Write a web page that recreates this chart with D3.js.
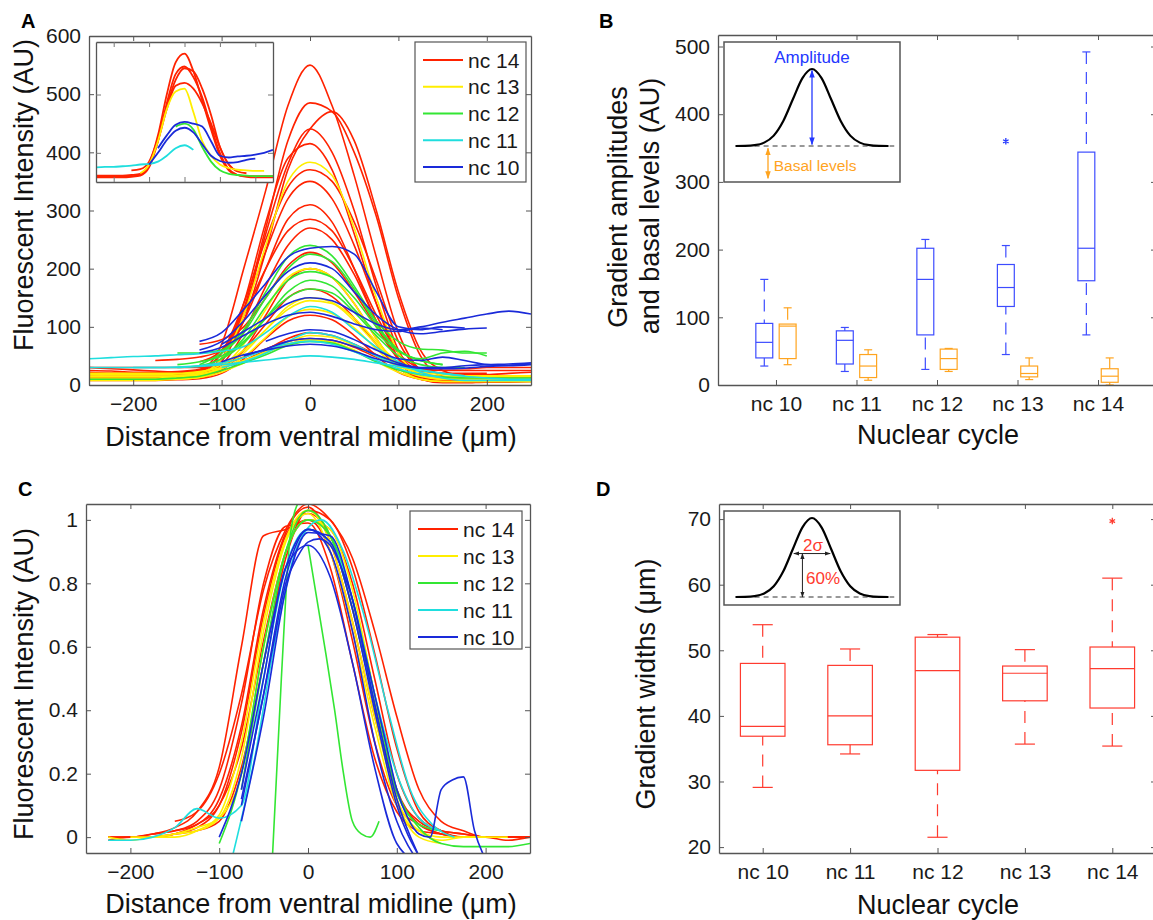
<!DOCTYPE html>
<html>
<head>
<meta charset="utf-8">
<title>Gradient profiles by nuclear cycle</title>
<script src="https://cdn.jsdelivr.net/npm/d3@7/dist/d3.min.js"></script>
<style>
  body { margin: 0; background: #fff; }
  svg { font-family: 'Liberation Sans', Arial, sans-serif; }
</style>
</head>
<body>
<svg id="chart" width="1153" height="920"></svg>
<script>
// ---- data ----
// legend order (top to bottom) and line colours
var ncNames = ['nc 14', 'nc 13', 'nc 12', 'nc 11', 'nc 10'];
var ncColors = ['#ff2200', '#ffee00', '#33e633', '#1fdede', '#1a2ad9'];

// panel A: raw profiles, each [start (um), step (um), intensities (AU)]
var rawNc14 = [
  [-250, 25, [22,20,20,19,19,25,70,200,335,480,550,480,360,220,90,25,8,6,9,11,14]],
  [-250, 25, [15,14,14,14,15,20,45,130,270,420,485,470,400,290,150,50,15,10,11,12,14]],
  [-250, 25, [30,28,26,24,22,25,45,110,230,370,440,470,420,300,160,60,25,16,15,15,16]],
  [-250, 25, [10,10,10,10,11,15,40,120,260,380,440,400,300,170,60,15,5,5,6,8,8]],
  [-250, 25, [12,12,12,12,13,18,45,140,280,390,415,370,260,140,45,10,4,4,5,5,6]],
  [-250, 25, [20,18,18,18,19,24,55,140,250,340,370,350,280,180,75,25,10,9,10,10,12]],
  [-250, 25, [25,24,22,22,23,27,55,130,230,320,350,320,240,140,55,22,14,12,12,14,14]],
  [-125, 25, [40,60,120,200,265,285,265,200,120,55,28,20,18,18,20,22]],
  [-250, 25, [15,15,15,15,16,19,35,90,170,240,270,250,190,110,45,16,9,8,8,9,10]],
  [-125, 25, [70,78,100,150,205,228,210,160,100,45,25,20,20,20]],
  [-250, 25, [10,10,10,10,11,13,25,60,120,180,200,185,140,80,30,10,5,5,5,6,6]],
  [-250, 25, [12,12,12,12,13,15,28,60,105,150,165,152,115,70,30,13,8,8,8,8,10]],
  [-250, 25, [20,20,20,20,21,23,30,42,60,80,90,85,70,52,35,27,25,25,25,25,25]],
  [-250, 25, [30,30,30,30,30,30,35,48,62,75,80,77,65,48,35,29,28,28,30,30,30]],
  [-175, 25, [42,44,48,60,110,200,285,310,280,200,110,45,18,12,12]],
  [-250, 25, [8,8,8,8,9,11,20,45,80,110,120,112,85,50,22,10,6,6,6,7,8]]
];
var rawNc13 = [
  [-250, 25, [15,15,15,15,16,20,45,120,240,350,383,360,270,150,55,18,10,10,10,10,10]],
  [-250, 25, [10,10,10,10,10,13,30,70,130,185,200,185,140,80,30,10,6,6,6,6,6]],
  [-250, 25, [15,15,15,15,16,19,30,55,95,135,150,142,115,75,38,18,12,12,12,12,12]],
  [-250, 25, [12,12,12,12,14,17,28,48,82,117,130,123,98,62,30,15,10,10,10,10,10]],
  [-250, 25, [20,20,20,20,20,23,30,42,57,74,85,82,68,50,32,22,18,16,16,16,16]],
  [-250, 25, [8,8,8,8,10,13,22,38,55,70,78,74,60,40,22,10,6,6,6,6,6]],
  [-250, 25, [18,18,18,18,19,22,35,60,95,130,145,140,110,70,35,20,15,15,15,15,15]]
];
var rawNc12 = [
  [-150, 25, [55,55,60,95,160,220,240,222,170,110,75,62,60,55,55]],
  [-125, 25, [35,55,90,150,200,225,212,165,105,60,42,35]],
  [-150, 25, [30,33,45,72,115,160,180,170,130,90,58,42,35]],
  [-150, 25, [35,40,50,75,115,150,165,158,125,85,50,35,30,30]],
  [-250, 25, [10,10,10,10,12,15,25,38,52,68,75,72,58,40,26,18,14,12,12,12,12]],
  [-100, 25, [45,80,135,180,195,185,150,100,60,45,55,58,50]]
];
var rawNc11 = [
  [-250, 25, [45,47,49,50,52,54,58,66,90,118,135,125,95,65,40,22,12,8,8,8,8]],
  [-200, 25, [30,30,30,32,35,39,43,47,50,48,44,38,32,26,20,16]],
  [-250, 25, [30,30,30,30,31,33,38,47,60,71,75,70,57,42,28,18,13]],
  [-100, 25, [30,40,55,75,90,85,70,50,35,25,20,15,12,10,10]]
];
var rawNc10 = [
  [-125, 25, [75,90,130,175,220,235,238,225,160,100,95,100,98]],
  [-125, 25, [60,75,110,155,195,210,200,160,120,95,88,92,96,98]],
  [-100, 25, [70,92,115,140,150,145,125,105,95,100,108,115,122,127,122]],
  [-125, 25, [55,65,85,105,120,125,118,105,95,92,98,95]],
  [-50, 25, [75,88,95,92,78,60,45,42,48,42,35,33,35]],
  [-75, 25, [50,62,75,80,77,66,52,38,30,30,33,35,36,38]],
  [-100, 25, [40,52,60,67,70,67,58,45,35,29,28,29,32,34,36]]
];

// panel A inset: the same profiles on their own axes, [start, step, values]
var insetNc14 = [
  [0, 0.5, [0.1,0.1,0.1,0.1,0.1,0.12,0.3,0.8,1.5,2.05,2.2,1.9,1.4,0.9,0.45,0.2,0.12,0.1,0.1,0.1,0.1]],
  [0, 0.5, [0.08,0.08,0.08,0.08,0.09,0.11,0.25,0.7,1.35,1.85,1.98,1.8,1.45,0.95,0.5,0.22,0.12,0.09,0.08,0.08,0.08]],
  [2, 0.5, [0.2,0.22,0.35,0.75,1.3,1.75,1.95,1.9,1.6,1.15,0.6,0.3,0.18]],
  [0, 0.5, [0.11,0.11,0.11,0.11,0.12,0.14,0.3,0.7,1.25,1.65,1.7,1.6,1.35,1.0,0.6,0.3,0.18,0.15]]
];
var insetNc13 = [[2.5, 0.5, [0.15,0.3,0.7,1.25,1.55,1.6,1.2,0.7,0.45,0.3,0.24,0.21,0.2,0.19,0.19]]];
var insetNc12 = [[4.5, 0.5, [0.95,1.0,0.9,0.6,0.35,0.2,0.14,0.12,0.11,0.1,0.1,0.1]]];
var insetNc11 = [[0, 0.5, [0.25,0.26,0.26,0.27,0.28,0.3,0.31,0.35,0.45,0.58,0.63,0.55]]];
var insetNc10 = [
  [3, 0.5, [0.3,0.5,0.72,0.88,0.93,0.85,0.65,0.45,0.36,0.33,0.34,0.38,0.4]],
  [3.5, 0.5, [0.58,0.8,0.98,1.03,1.0,0.95,0.7,0.45,0.42,0.44,0.45,0.47,0.5,0.55]]
];

// panel C: normalised profiles, [start, step, values]
var normNc14 = [
  [-225, 25, [0,0,0.01,0.02,0.05,0.15,0.42,0.8,0.98,0.99,0.85,0.55,0.25,0.08,0.02,0.01,0,0,0,0]],
  [-225, 25, [0,0,0.01,0.03,0.08,0.22,0.6,0.95,0.97,1.0,0.9,0.62,0.3,0.1,0.04,0.01,0,0,0,0]],
  [-200, 25, [0,0,0.01,0.03,0.1,0.33,0.7,0.95,1.02,0.95,0.72,0.42,0.15,0.04,0.01,0,0,-0.01,0]],
  [-175, 25, [0,0.01,0.02,0.05,0.22,0.55,0.88,1.03,1.0,0.85,0.58,0.28,0.08,0.02,0,0,0,0]],
  [-175, 25, [0.01,0.02,0.04,0.12,0.35,0.72,0.96,1.04,0.93,0.68,0.38,0.14,0.05,0.02,0.01,0,0,0]],
  [-225, 25, [-0.01,0,0,0.01,0.04,0.1,0.28,0.62,0.9,1.0,0.97,0.8,0.5,0.2,0.06,0.02,0.01,0,0,0]],
  [-150, 25, [0.05,0.08,0.2,0.45,0.78,0.97,1.05,1.0,0.88,0.65,0.38,0.15,0.05,0.02,0,0,0]]
];
var normNc13 = [
  [-225, 25, [0,-0.01,0,0,0.02,0.07,0.3,0.68,0.94,1.03,0.93,0.68,0.38,0.12,0.02,-0.01,0,0]],
  [-175, 25, [0,0.01,0.03,0.06,0.2,0.6,0.9,1.0,0.97,0.78,0.45,0.12,0,-0.02]],
  [-200, 25, [0,0,0.01,0.02,0.06,0.25,0.65,0.93,1.02,0.9,0.65,0.35,0.1,0.02,0,0,0,0]]
];
var normNc12 = [
  [-100, 25, [-0.02,0.2,0.6,0.9,1.0,0.95,0.75,0.45,0.15,0.03,-0.02,-0.03,-0.03,-0.03,-0.02]],
  [-75, 25, [0.15,0.55,0.9,1.03,0.95,0.72,0.42,0.14,0.04,0.02]],
  [-40, 10, [-0.06,0.5,0.95,1.06]],
  [0, 10, [0.92,0.75,0.58,0.4,0.2,0.05,0.01,0,0.05]]
];
var normNc11 = [
  [-225, 25, [-0.01,-0.01,0,0.03,0.09,0.06,0.1,0.5,0.85,0.97,0.93,0.75,0.45,0.2,0.06,0.02]],
  [-85, 25, [-0.06,0.25,0.65,0.93,1.0,0.9,0.68,0.4,0.15,0.04,0]]
];
var normNc10 = [
  [-75, 25, [0.1,0.45,0.82,0.97,0.9,0.65,0.3,0.05,-0.08]],
  [-75, 25, [0.05,0.38,0.78,0.96,0.95,0.75,0.42,0.12,-0.06]],
  [-75, 12.5, [0.12,0.28,0.45,0.63,0.8,0.88,0.93,0.94,0.92,0.85,0.75,0.6,0.45,0.3,0.15,0.06,0.01,0,0.15,0.18,0.19,0.02,-0.07]],
  [-75, 25, [0.15,0.5,0.85,0.92,0.82,0.55,0.22,-0.02,-0.08]],
  [-100, 25, [0,0.2,0.55,0.85,0.97,0.93,0.72,0.4,0.1,-0.06]]
];

// panels B and D: box plot summaries [low whisker, q1, median, q3, high whisker]
var cycles = ['nc 10', 'nc 11', 'nc 12', 'nc 13', 'nc 14'];
var amplitudeStats = [[28,40,63,91,156], [20,31,66,80,85], [23,74,156,202,215], [45,116,144,178,206], [74,154,202,344,492]];
var amplitudeOutliers = [[4, 360]];   // [cycle number, value]
var basalStats = [[30,39,87,90,114], [7,11,28,45,52], [20,23,39,53,54], [8,12,17,28,40], [0,4,13,24,40]];
var widthStats = [[29.1,36.9,38.4,48.0,53.9], [34.2,35.6,40.0,47.7,50.2], [21.5,31.7,46.9,52.0,52.4], [35.7,42.3,46.5,47.6,50.1], [35.4,41.2,47.2,50.5,61.0]];
var widthOutliers = [[5, 69.7]];

// schematic gaussian used in the B and D insets (position in sigma, relative height)
var schemeSigma = [-4.5,-4,-3.5,-3,-2.5,-2,-1.5,-1,-0.5,0,0.5,1,1.5,2,2.5,3,3.5,4,4.5];
var schemeHeight = [0,0,0.002,0.011,0.044,0.135,0.325,0.607,0.882,1,0.882,0.607,0.325,0.135,0.044,0.011,0.002,0,0];

// ---- drawing ----
var FONT = "'Liberation Sans', Arial, sans-serif";
var svg = d3.select('#chart');
var defs = svg.append('defs');

function profilePoints(p) {
  return p[2].map((v, i) => [p[0] + i * p[1], v]);
}

function addClip(id, x, y) {
  defs.append('clipPath').attr('id', id).append('rect')
    .attr('x', x.range()[0]).attr('y', y.range()[1])
    .attr('width', x.range()[1] - x.range()[0])
    .attr('height', y.range()[0] - y.range()[1]);
}

// matlab style box: ticks inside on all four sides
function drawAxes(x, y, xTicks, yTicks, xFormat, yFormat, fontSize) {
  var g = svg.append('g').attr('color', '#555');
  var left = x.range()[0], right = x.range()[1], bottom = y.range()[0], top = y.range()[1];
  g.append('g').attr('transform', `translate(0,${bottom})`)
    .call(d3.axisBottom(x).tickValues(xTicks).tickFormat(xFormat).tickSize(-5).tickSizeOuter(0).tickPadding(11));
  g.append('g').attr('transform', `translate(0,${top})`)
    .call(d3.axisTop(x).tickValues(xTicks).tickFormat('').tickSize(-5).tickSizeOuter(0));
  g.append('g').attr('transform', `translate(${left},0)`)
    .call(d3.axisLeft(y).tickValues(yTicks).tickFormat(yFormat).tickSize(-5).tickSizeOuter(0).tickPadding(8));
  g.append('g').attr('transform', `translate(${right},0)`)
    .call(d3.axisRight(y).tickValues(yTicks).tickFormat('').tickSize(-5).tickSizeOuter(0));
  g.selectAll('text').attr('fill', '#1a1a1a')
    .style('font-size', (fontSize || 21) + 'px').style('font-family', FONT);
  g.selectAll('.domain').attr('stroke-width', 1.3);
  return g;
}

function drawProfiles(groups, x, y, clipId, width) {
  var line = d3.line()
    .x(d => x(d[0])).y(d => y(d[1]))
    .curve(d3.curveMonotoneX);
  var g = svg.append('g').attr('clip-path', `url(#${clipId})`).attr('fill', 'none')
    .attr('stroke-width', width || 1.6).attr('stroke-linejoin', 'round');
  // nc 14 first so the earlier cycles end up on top
  groups.forEach((profiles, k) => {
    g.append('g').attr('stroke', ncColors[k])
      .selectAll('path').data(profiles).join('path')
      .attr('d', p => line(profilePoints(p)));
  });
}

function drawLegend(x0, y0, w, h, rowGap) {
  var g = svg.append('g');
  g.append('rect').attr('x', x0).attr('y', y0).attr('width', w).attr('height', h)
    .attr('fill', '#fff').attr('stroke', '#555').attr('stroke-width', 1.2);
  var rows = g.selectAll('g').data(ncNames).join('g')
    .attr('transform', (d, i) => `translate(${x0},${y0 + 18 + i * rowGap})`);
  rows.append('line').attr('x1', 8).attr('x2', 48)
    .attr('stroke', (d, i) => ncColors[i]).attr('stroke-width', 2);
  rows.append('text').attr('x', 53).attr('dy', '0.36em')
    .style('font-size', '21px').attr('fill', '#1a1a1a').text(d => d);
}

function axisTitle(text, x, y, rotate, size) {
  svg.append('text')
    .attr('transform', `translate(${x},${y})` + (rotate ? ' rotate(-90)' : ''))
    .attr('text-anchor', 'middle').style('font-size', (size || 27) + 'px')
    .attr('fill', '#111').text(text);
}

function panelLetter(text, x, y) {
  svg.append('text').attr('x', x).attr('y', y)
    .style('font-size', '20px').style('font-weight', 'bold').attr('fill', '#000').text(text);
}

function arrowMarker(id, color) {
  defs.append('marker').attr('id', id)
    .attr('viewBox', '0 0 10 10').attr('refX', 9).attr('refY', 5)
    .attr('markerWidth', 6).attr('markerHeight', 6).attr('orient', 'auto-start-reverse')
    .append('path').attr('d', 'M0,1.5L10,5L0,8.5Z').attr('fill', color);
}
arrowMarker('arrBlue', '#2438ff');
arrowMarker('arrOrange', '#ffa41f');
arrowMarker('arrBlack', '#222');

// box plots: offset and widths are in category units
function drawBoxes(x, y, stats, offset, boxW, capW, color, dash) {
  var g = svg.append('g').attr('stroke', color).attr('fill', 'none').attr('stroke-width', 1.2);
  var boxes = g.selectAll('g').data(stats).join('g');
  var cx = (d, i) => x(i + 1 + offset);
  var half = x(1 + boxW / 2) - x(1);
  var capHalf = x(1 + capW / 2) - x(1);
  boxes.append('rect')
    .attr('x', (d, i) => cx(d, i) - half).attr('width', 2 * half)
    .attr('y', d => y(d[3])).attr('height', d => y(d[1]) - y(d[3]));
  boxes.append('line').attr('class', 'median')
    .attr('x1', (d, i) => cx(d, i) - half).attr('x2', (d, i) => cx(d, i) + half)
    .attr('y1', d => y(d[2])).attr('y2', d => y(d[2]));
  // whiskers (dashed) and caps
  [[0, 1], [4, 3]].forEach(([w, q]) => {
    boxes.append('line')
      .attr('x1', cx).attr('x2', cx)
      .attr('y1', d => y(d[w])).attr('y2', d => y(d[q]))
      .attr('stroke-dasharray', dash);
    boxes.append('line')
      .attr('x1', (d, i) => cx(d, i) - capHalf).attr('x2', (d, i) => cx(d, i) + capHalf)
      .attr('y1', d => y(d[w])).attr('y2', d => y(d[w]));
  });
}

function drawOutliers(x, y, points, offset, color) {
  svg.append('g').selectAll('path').data(points).join('path')
    .attr('transform', d => `translate(${x(d[0] + offset)},${y(d[1])})`)
    .attr('d', d3.symbol(d3.symbolAsterisk, 28))
    .attr('stroke', color).attr('stroke-width', 1.3).attr('fill', 'none');
}

// schematic gaussian inset for B and D
function drawScheme(box, baseY, peakY) {
  var sx = d3.scaleLinear().domain([-4.6, 4.6]).range([box.x, box.x + box.w]);
  var sy = d3.scaleLinear().domain([0, 1]).range([baseY, peakY]);
  svg.append('rect').attr('x', box.x).attr('y', box.y).attr('width', box.w).attr('height', box.h)
    .attr('fill', '#fff').attr('stroke', '#555').attr('stroke-width', 1.5);
  svg.append('line').attr('x1', sx(-3)).attr('x2', sx(4.3)).attr('y1', sy(0)).attr('y2', sy(0))
    .attr('stroke', '#333').attr('stroke-width', 1).attr('stroke-dasharray', '5,4');
  svg.append('path')
    .attr('d', d3.line().x(d => sx(d[0])).y(d => sy(d[1])).curve(d3.curveMonotoneX)(
      d3.zip(schemeSigma, schemeHeight).filter(d => Math.abs(d[0]) <= 4.45)))
    .attr('fill', 'none').attr('stroke', '#000').attr('stroke-width', 2.2);
  return { sx: sx, sy: sy };
}

// ---------- panel A ----------
var xA = d3.scaleLinear().domain([-250, 250]).range([89, 531]);
var yA = d3.scaleLinear().domain([0, 600]).range([385, 36]);
addClip('clipA', xA, yA);
drawProfiles([rawNc14, rawNc13, rawNc12, rawNc11, rawNc10], xA, yA, 'clipA');

// inset of panel A
var xIn = d3.scaleLinear().domain([0, 10]).range([96, 273]);
var yIn = d3.scaleLinear().domain([0, 2.4]).range([182, 42]);
svg.append('rect').attr('x', 96).attr('y', 42).attr('width', 177).attr('height', 140).attr('fill', '#fff');
addClip('clipIn', xIn, yIn);
drawProfiles([insetNc14, insetNc13, insetNc12, insetNc11, insetNc10], xIn, yIn, 'clipIn', 1.8);
drawAxes(xIn, yIn, [1, 3, 5, 7, 9], [0.5, 1.5], '', '').selectAll('.tick line').attr('stroke', '#777');

drawAxes(xA, yA, [-200, -100, 0, 100, 200], d3.range(0, 601, 100), d3.format('d'), d3.format('d'));
drawLegend(415, 42, 111, 140, 26.75);
axisTitle('Distance from ventral midline (\u03bcm)', 311, 446);
axisTitle('Fluorescent Intensity (AU)', 33, 195, true);
panelLetter('A', 21, 28);

// ---------- panel B ----------
var xB = d3.scaleLinear().domain([0.28, 5.72]).range([718, 1156]);
var yB = d3.scaleLinear().domain([0, 517]).range([385, 35]);
drawBoxes(xB, yB, amplitudeStats, -0.145, 0.21, 0.1, '#3d4cff', '12,8');
drawBoxes(xB, yB, basalStats, 0.145, 0.21, 0.1, '#ffa41f', '12,8');
drawOutliers(xB, yB, amplitudeOutliers, -0.145, '#2438ff');
drawAxes(xB, yB, [1, 2, 3, 4, 5], d3.range(0, 501, 100), i => cycles[i - 1], d3.format('d'));

var schB = drawScheme({ x: 724, y: 42, w: 176, h: 140 }, 146, 69);
svg.append('line').attr('x1', schB.sx(0)).attr('x2', schB.sx(0))
  .attr('y1', schB.sy(0.02)).attr('y2', schB.sy(0.98))
  .attr('stroke', '#2438ff').attr('stroke-width', 1.3)
  .attr('marker-start', 'url(#arrBlue)').attr('marker-end', 'url(#arrBlue)');
svg.append('text').attr('x', schB.sx(0)).attr('y', schB.sy(1.16)).attr('dy', '0.35em')
  .attr('text-anchor', 'middle').style('font-size', '17px').attr('fill', '#2438ff').text('Amplitude');
svg.append('line').attr('x1', schB.sx(-2.3)).attr('x2', schB.sx(-2.3))
  .attr('y1', schB.sy(-0.03)).attr('y2', schB.sy(-0.42))
  .attr('stroke', '#ffa41f').attr('stroke-width', 1.3)
  .attr('marker-start', 'url(#arrOrange)').attr('marker-end', 'url(#arrOrange)');
svg.append('text').attr('x', schB.sx(-2.0)).attr('y', schB.sy(-0.25)).attr('dy', '0.35em')
  .style('font-size', '15.5px').attr('fill', '#ffa41f').text('Basal levels');

svg.append('text').attr('transform', 'translate(627,207) rotate(-90)')
  .attr('text-anchor', 'middle').style('font-size', '27px').attr('fill', '#111').text('Gradient amplitudes');
svg.append('text').attr('transform', 'translate(659,206) rotate(-90)')
  .attr('text-anchor', 'middle').style('font-size', '27px').attr('fill', '#111').text('and basal levels (AU)');
axisTitle('Nuclear cycle', 938, 444);
panelLetter('B', 599, 28);

// ---------- panel C ----------
var xC = d3.scaleLinear().domain([-250, 250]).range([86, 530]);
var yC = d3.scaleLinear().domain([-0.05, 1.05]).range([853, 504]);
addClip('clipC', xC, yC);
drawProfiles([normNc14, normNc13, normNc12, normNc11, normNc10], xC, yC, 'clipC');
drawAxes(xC, yC, [-200, -100, 0, 100, 200], [0, 0.2, 0.4, 0.6, 0.8, 1], d3.format('d'), d3.format('~g'));
drawLegend(410, 511, 112, 138, 27);
axisTitle('Distance from ventral midline (\u03bcm)', 311, 913);
axisTitle('Fluorescent Intensity (AU)', 33, 684, true);
panelLetter('C', 18, 496);

// ---------- panel D ----------
var xD = d3.scaleLinear().domain([0.5, 5.5]).range([719, 1156]);
var yD = d3.scaleLinear().domain([19.1, 72.3]).range([853, 504]);
drawBoxes(xD, yD, widthStats, 0, 0.51, 0.23, '#ff3b2f', '12,9');
drawOutliers(xD, yD, widthOutliers, 0, '#ff3b2f');
drawAxes(xD, yD, [1, 2, 3, 4, 5], [20, 30, 40, 50, 60, 70], i => cycles[i - 1], d3.format('d'));

var schD = drawScheme({ x: 724, y: 511, w: 176, h: 94 }, 597, 518);
svg.append('line').attr('x1', schD.sx(-0.95)).attr('x2', schD.sx(0.95))
  .attr('y1', schD.sy(0.55)).attr('y2', schD.sy(0.55))
  .attr('stroke', '#222').attr('stroke-width', 1)
  .attr('marker-start', 'url(#arrBlack)').attr('marker-end', 'url(#arrBlack)');
svg.append('line').attr('x1', schD.sx(-0.5)).attr('x2', schD.sx(-0.5))
  .attr('y1', schD.sy(0.55)).attr('y2', schD.sy(0))
  .attr('stroke', '#222').attr('stroke-width', 1)
  .attr('marker-start', 'url(#arrBlack)').attr('marker-end', 'url(#arrBlack)');
svg.append('text').attr('x', schD.sx(0.05)).attr('y', schD.sy(0.66)).attr('dy', '0.35em')
  .attr('text-anchor', 'middle').style('font-size', '17px').attr('fill', '#ff3b2f').text('2\u03c3');
svg.append('text').attr('x', schD.sx(0.58)).attr('y', schD.sy(0.24)).attr('dy', '0.35em')
  .attr('text-anchor', 'middle').style('font-size', '17px').attr('fill', '#ff3b2f').text('60%');

axisTitle('Gradient widths (\u03bcm)', 655, 684, true);
axisTitle('Nuclear cycle', 938, 914);
panelLetter('D', 596, 496);
</script>
</body>
</html>
